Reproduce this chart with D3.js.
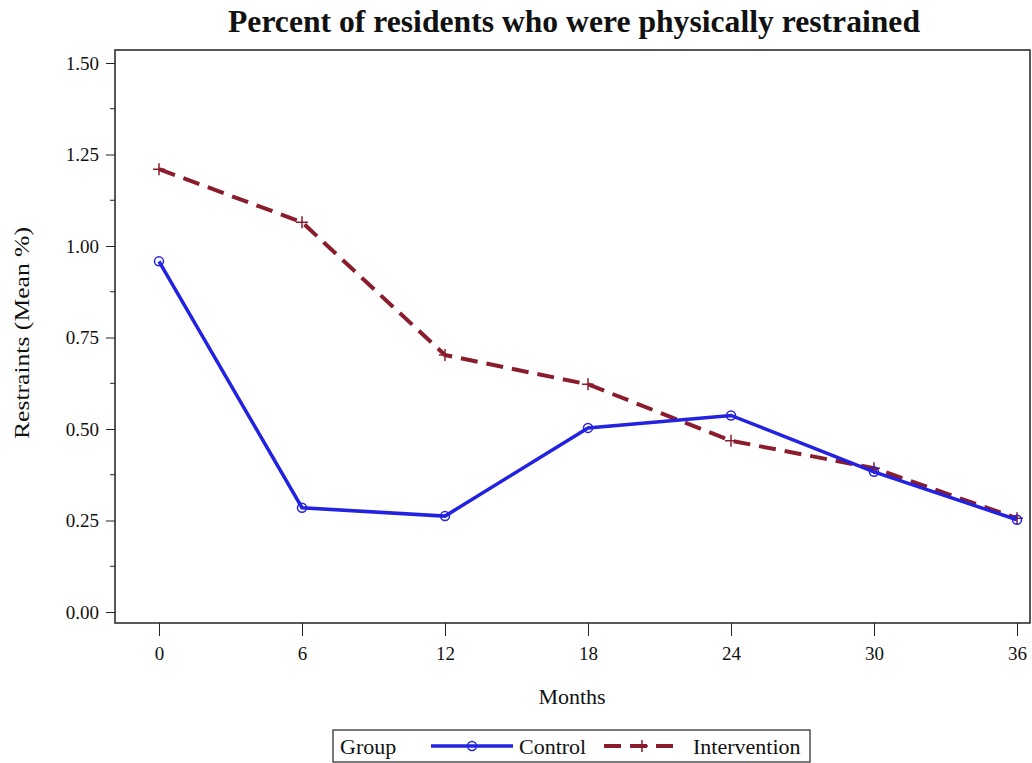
<!DOCTYPE html>
<html>
<head>
<meta charset="utf-8">
<script src="https://cdn.jsdelivr.net/npm/d3@7"></script>
<style>
  html, body { margin: 0; padding: 0; background: #fff; }
  svg text { font-family: "Liberation Serif", "Times New Roman", serif; fill: #111; }
</style>
</head>
<body>
<svg id="chart" width="1032" height="763"></svg>
<script>
const months = [0, 6, 12, 18, 24, 30, 36];
const controlValues = [0.958, 0.285, 0.262, 0.503, 0.537, 0.383, 0.252];
const interventionValues = [1.21, 1.065, 0.702, 0.622, 0.468, 0.393, 0.256];
const yTicks = [0, 0.25, 0.5, 0.75, 1.0, 1.25, 1.5];
const xTicks = [0, 6, 12, 18, 24, 30, 36];
const seriesNames = ["Control", "Intervention"];
const titleText = "Percent of residents who were physically restrained";

const svg = d3.select("#chart");
const frame = { left: 115, right: 1030, top: 50, bottom: 623 };
const x = d3.scaleLinear().domain([0, 36]).range([159, 1017]);
const y = d3.scaleLinear().domain([0, 1.5]).range([612, 63]);

const blue = "#2222e0";
const red = "#8b1c2c";

// title
svg.append("text").attr("x", 574).attr("y", 32).attr("text-anchor", "middle")
  .attr("textLength", 692).attr("lengthAdjust", "spacingAndGlyphs")
  .style("font-size", "31px").style("font-weight", "bold").text(titleText);

// frame
svg.append("rect").attr("x", frame.left).attr("y", frame.top)
  .attr("width", frame.right - frame.left).attr("height", frame.bottom - frame.top)
  .attr("fill", "none").attr("stroke", "#222").attr("stroke-width", 1.5);

// y axis
const yAxis = d3.axisLeft(y).tickValues(yTicks).tickFormat(d3.format(".2f")).tickSize(9).tickPadding(7);
const gy = svg.append("g").attr("transform", `translate(${frame.left},0)`).call(yAxis);
gy.select(".domain").remove();
gy.selectAll("text").style("font-size", "19px").style("font-family", "Liberation Serif, serif");
gy.selectAll("line").attr("stroke", "#222");
// minor ticks
const minor = d3.range(0.125, 1.5, 0.25);
svg.append("g").selectAll("line").data(minor).join("line")
  .attr("x1", frame.left - 5).attr("x2", frame.left)
  .attr("y1", d => y(d)).attr("y2", d => y(d)).attr("stroke", "#222");

// x axis
const xAxis = d3.axisBottom(x).tickValues(xTicks).tickSize(13).tickPadding(11);
const gx = svg.append("g").attr("transform", `translate(0,${frame.bottom})`).call(xAxis);
gx.select(".domain").remove();
gx.selectAll("text").style("font-size", "19px").style("font-family", "Liberation Serif, serif");
gx.selectAll("line").attr("stroke", "#222");

// axis labels
svg.append("text").attr("x", 572).attr("y", 704).attr("text-anchor", "middle")
  .style("font-size", "22px").text("Months");
svg.append("text").attr("transform", "translate(29,333) rotate(-90)").attr("text-anchor", "middle")
  .style("font-size", "22px").attr("textLength", 212).attr("lengthAdjust", "spacingAndGlyphs")
  .text("Restraints (Mean %)");

const line = d3.line().x((d, i) => x(months[i])).y(d => y(d));

// intervention
svg.append("path").datum(interventionValues).attr("d", line)
  .attr("fill", "none").attr("stroke", red).attr("stroke-width", 4)
  .attr("stroke-dasharray", "17,9");
svg.append("g").selectAll("path").data(interventionValues).join("path")
  .attr("d", (d, i) => { const cx = x(months[i]), cy = y(d); return `M${cx-6},${cy}H${cx+6}M${cx},${cy-6}V${cy+6}`; })
  .attr("stroke", red).attr("stroke-width", 1.5);

// control
svg.append("path").datum(controlValues).attr("d", line)
  .attr("fill", "none").attr("stroke", blue).attr("stroke-width", 3.5);
svg.append("g").selectAll("circle").data(controlValues).join("circle")
  .attr("cx", (d, i) => x(months[i])).attr("cy", d => y(d)).attr("r", 4.5)
  .attr("fill", "none").attr("stroke", blue).attr("stroke-width", 1.5);

// legend
const lg = svg.append("g");
lg.append("rect").attr("x", 333).attr("y", 730).attr("width", 477).attr("height", 32)
  .attr("fill", "#fff").attr("stroke", "#222").attr("stroke-width", 1.2);
lg.append("text").attr("x", 340).attr("y", 754).style("font-size", "22px").text("Group");
lg.append("line").attr("x1", 431).attr("x2", 513).attr("y1", 746).attr("y2", 746)
  .attr("stroke", blue).attr("stroke-width", 3.5);
lg.append("circle").attr("cx", 472).attr("cy", 746).attr("r", 4.5)
  .attr("fill", "none").attr("stroke", blue).attr("stroke-width", 1.5);
lg.append("text").attr("x", 519).attr("y", 754).style("font-size", "22px").text(seriesNames[0]);
lg.append("line").attr("x1", 604).attr("x2", 681).attr("y1", 746).attr("y2", 746)
  .attr("stroke", red).attr("stroke-width", 4).attr("stroke-dasharray", "17,9");
lg.append("path").attr("d", "M636,746H648M642,740V752").attr("stroke", red).attr("stroke-width", 1.5);
lg.append("text").attr("x", 693).attr("y", 754).style("font-size", "22px").text(seriesNames[1]);
</script>
</body>
</html>
